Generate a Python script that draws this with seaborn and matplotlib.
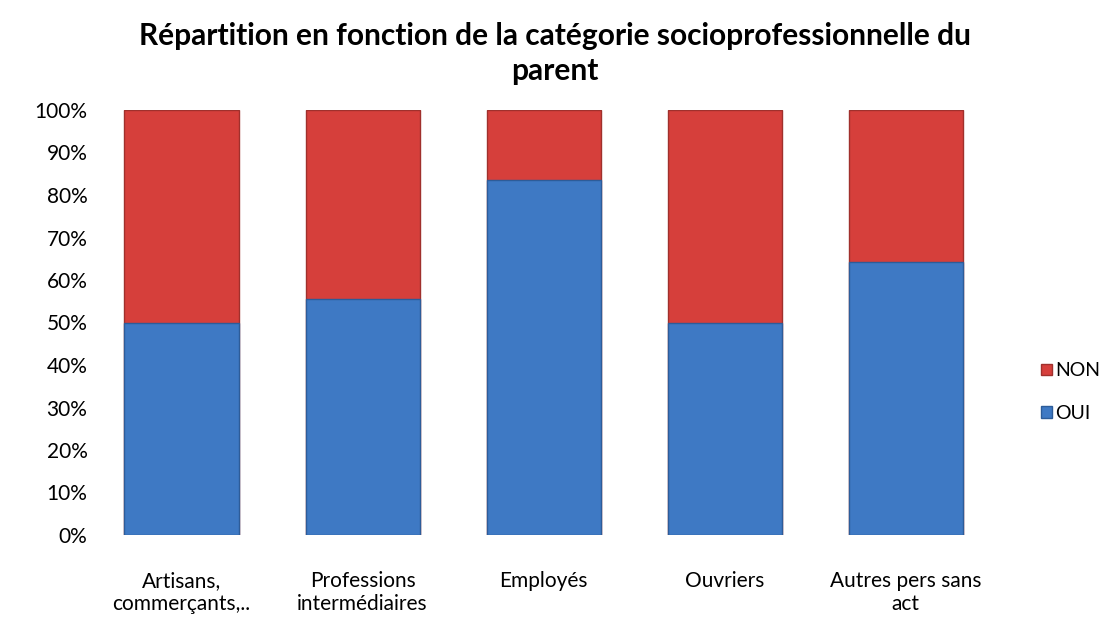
import pandas as pd
import matplotlib.pyplot as plt
import seaborn as sns
from matplotlib.patches import Patch

# Data
categories = ['Artisans,\ncommerçants,..', 'Professions\nintermédiaires', 'Employés',
              'Ouvriers', 'Autres pers sans\nact']
oui = [0.50, 0.555, 0.835, 0.50, 0.643]
non = [1 - v for v in oui]
series = ['NON', 'OUI']

df = pd.DataFrame({'categorie': categories, 'OUI': oui, 'NON': non})
df['total'] = df['OUI'] + df['NON']

sns.set_theme(style='white')
plt.rcParams['font.family'] = ['Lato', 'DejaVu Sans']
plt.rcParams['text.color'] = 'black'
plt.rcParams['xtick.color'] = 'black'
plt.rcParams['ytick.color'] = 'black'

red = '#d63f3b'
blue = '#3e79c4'

fig = plt.figure(figsize=(11.1, 6.25), dpi=100)
ax = fig.add_axes([100 / 1110, 0.144, 900 / 1110, 0.68])

# stacked: full bar in red, OUI part in blue on top of it
sns.barplot(data=df, x='categorie', y='total', color=red, width=0.63, saturation=1,
            edgecolor='#a0302c', linewidth=1, ax=ax)
sns.barplot(data=df, x='categorie', y='OUI', color=blue, width=0.63, saturation=1,
            edgecolor='#2d5c99', linewidth=1, ax=ax)

ax.set_xlim(-0.45, 4.52)
ax.set_ylim(0, 1.0)
ax.set_yticks([i / 10 for i in range(11)])
ax.set_yticklabels([f'{i * 10}%' for i in range(11)], fontsize=15)
ax.tick_params(axis='x', labelsize=15, pad=20)
ax.tick_params(axis='y', pad=3)
ax.set_xlabel('')
ax.set_ylabel('')
for s in ax.spines.values():
    s.set_visible(False)

fig.suptitle('Répartition en fonction de la catégorie socioprofessionnelle du\nparent',
             fontsize=21.5, fontweight='bold', y=0.965, linespacing=1.3)

handles = [Patch(facecolor=red, edgecolor='#a0302c'), Patch(facecolor=blue, edgecolor='#2d5c99')]
fig.legend(handles, series, loc='center left', bbox_to_anchor=(1041 / 1110, 1 - 392 / 625),
           frameon=False, fontsize=14, handlelength=0.55, handleheight=0.55,
           handletextpad=0.2, labelspacing=1.3, borderaxespad=0, borderpad=0)

fig.savefig('out.png', dpi=100)
